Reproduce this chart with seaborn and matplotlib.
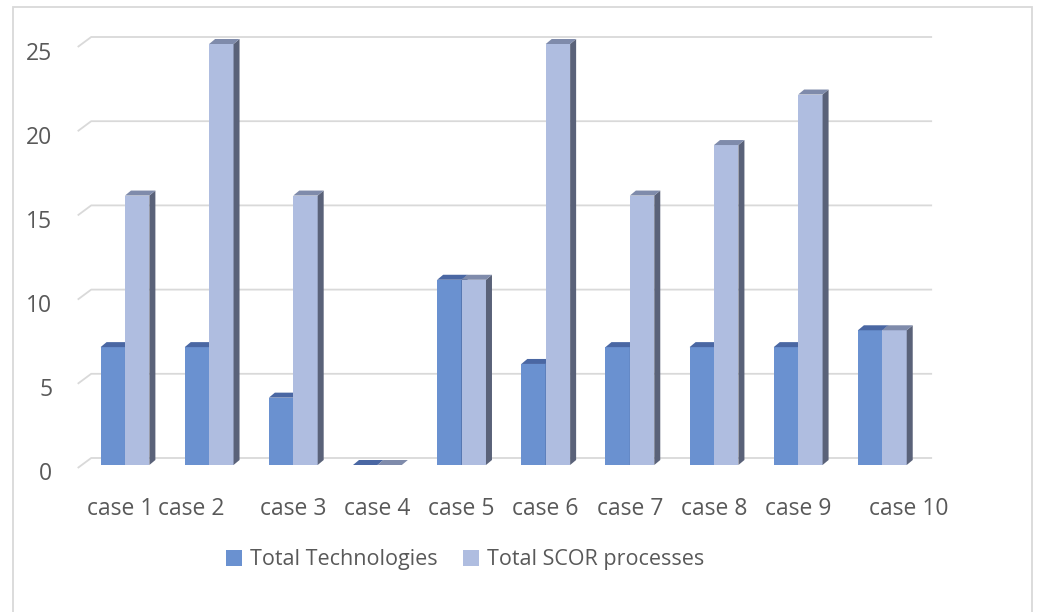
import matplotlib
matplotlib.use("Agg")
import numpy as np
import pandas as pd
import seaborn as sns
import matplotlib.pyplot as plt
from matplotlib.patches import Polygon, Rectangle
from matplotlib.lines import Line2D
from matplotlib.transforms import ScaledTranslation, IdentityTransform, blended_transform_factory

# ---------------- data ----------------
categories = ["case 1", "case 2", "case 3", "case 4", "case 5",
              "case 6", "case 7", "case 8", "case 9", "case 10"]
total_technologies = [7, 7, 4, 0, 11, 6, 7, 7, 7, 8]
total_scor = [16, 25, 16, 0, 11, 25, 16, 19, 22, 8]
series_names = ["Total Technologies", "Total SCOR processes"]
y_ticks = [0, 5, 10, 15, 20, 25]

# ---------------- style ----------------
front_cols = ["#6a91d0", "#afbde0"]
top_cols = ["#4a67a3", "#7f8bab"]
side_cols = ["#3f578a", "#5a6279"]
grid_col = "#d9d9d9"
text_col = "#595959"

sns.set_style("white")
plt.rcParams["font.family"] = ["Open Sans", "DejaVu Sans"]

W, H, DPI = 1037, 612, 100
fig = plt.figure(figsize=(W / DPI, H / DPI), dpi=DPI)
fig.patch.set_facecolor("white")

# axes placed so bars sit on pixel row 465 and value 25 reaches row 44
x_left_px, x_right_px = 78.7, 928.6
ax = fig.add_axes([x_left_px / W, 1 - 465 / H, (x_right_px - x_left_px) / W, 421 / H])
ax.set_facecolor("none")

df = pd.DataFrame({
    "case": categories * 2,
    "value": total_technologies + total_scor,
    "series": [series_names[0]] * len(categories) + [series_names[1]] * len(categories),
})
sns.barplot(data=df, x="case", y="value", hue="series", order=categories,
            hue_order=series_names, palette=front_cols, width=0.58,
            saturation=1, linewidth=0, edgecolor="none", legend=False, ax=ax)
ax.set_xlim(-0.55, 9.55)
ax.set_ylim(0, 25)
for s in ax.spines.values():
    s.set_visible(False)
ax.set_xticks([])
ax.set_yticks([])
ax.set_xlabel("")
ax.set_ylabel("")
ax.grid(False)

def px(offx, offy):
    return ScaledTranslation(offx / DPI, offy / DPI, fig.dpi_scale_trans)

# ---------------- 3D back-wall grid lines ----------------
for v in y_ticks:
    fx, fy = ax.transData.transform((-0.55, v))
    rx, _ = ax.transData.transform((9.55, v))
    xs = [fx - 1, fx + 12.5, rx + 3.5]
    ys = [fy - 3, fy + 7, fy + 7]
    ln = Line2D(xs, ys, transform=IdentityTransform(), color=grid_col,
                lw=1.3, zorder=1, solid_capstyle="butt", clip_on=False)
    ax.add_artist(ln)

# ---------------- 3D bar faces ----------------
dx, dy = 6, 5
n = len(categories)
bars = [p for p in ax.patches if isinstance(p, Rectangle)][: 2 * n]
for i, p in enumerate(bars):
    si = 0 if i < n else 1
    p.set_zorder(3 + 2 * si)
    x0 = p.get_x()
    x1 = x0 + p.get_width()
    h = p.get_height()
    (X0, Y0) = ax.transData.transform((x0, 0))
    (X1, Yh) = ax.transData.transform((x1, h))
    top = Polygon([(X0, Yh), (X1, Yh), (X1 + dx, Yh + dy), (X0 + dx, Yh + dy)],
                  closed=True, transform=IdentityTransform(), fc=top_cols[si],
                  ec="none", zorder=3.5 + 2 * si, clip_on=False)
    side = Polygon([(X1, Y0), (X1 + dx, Y0 + dy), (X1 + dx, Yh + dy), (X1, Yh)],
                   closed=True, transform=IdentityTransform(), fc=side_cols[si],
                   ec="none", zorder=3.5 + 2 * si, clip_on=False)
    ax.add_artist(side)
    ax.add_artist(top)

# ---------------- tick labels ----------------
ytr = blended_transform_factory(ax.transAxes, ax.transData)
for v in y_ticks:
    ax.text(0, v, str(v), transform=ytr + px(-26.5, -9.5), ha="right", va="center",
            fontsize=16.5, color=text_col, clip_on=False)

label_shift = [-5, -18, 0, 0, 0, 0, 0, 0, 0, 26]
xtr = blended_transform_factory(ax.transData, ax.transAxes)
for k, c in enumerate(categories):
    ax.text(k, 0, c, transform=xtr + px(label_shift[k], -44), ha="center", va="center",
            fontsize=16.5, color=text_col, clip_on=False)

# ---------------- legend ----------------
handles = [Rectangle((0, 0), 1, 1, fc=front_cols[0], ec="none"),
           Rectangle((0, 0), 1, 1, fc=front_cols[1], ec="none")]
fig.legend(handles, series_names, loc="center", bbox_to_anchor=(465 / W, 1 - 560 / H),
           ncol=2, frameon=False, fontsize=15.5, handlelength=0.75, handleheight=0.75,
           handletextpad=0.35, columnspacing=1.2, labelcolor=text_col)

# ---------------- chart frame ----------------
frame = Rectangle((13 / W, -0.1), (1032 - 13) / W, 1 - 7 / H + 0.1,
                  transform=fig.transFigure, fill=False, ec=grid_col, lw=1.3)
fig.patches.append(frame)

fig.savefig("out.png", dpi=DPI, facecolor="white")
